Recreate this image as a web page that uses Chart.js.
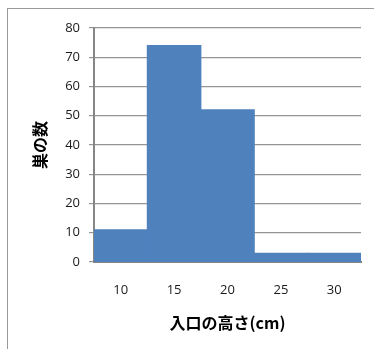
<!DOCTYPE html>
<html>
<head>
<meta charset="utf-8">
<script src="https://cdn.jsdelivr.net/npm/chart.js@4/dist/chart.umd.min.js"></script>
<style>
  html, body { margin: 0; padding: 0; background: #fff; }
  #wrap { position: relative; width: 374px; height: 349px; overflow: hidden; }
  #frame { position: absolute; left: 7px; top: 8px; width: 420px; height: 420px;
           border: 1.5px solid #9a9a9a; box-sizing: border-box; }
  canvas { position: absolute; left: 0; top: 0; }
</style>
</head>
<body>
<div id="wrap">
  <div id="frame"></div>
  <canvas id="c" width="374" height="349"></canvas>
</div>
<script>
// Nest counts by entrance height (5 cm bins)
const heights = ['10', '15', '20', '25', '30'];
const nestCounts = [11, 74, 52, 3, 3];
const yTicks = [0, 10, 20, 30, 40, 50, 60, 70, 80];

const axisFont = { family: '"Open Sans", "Liberation Sans", sans-serif', size: 13 };
const titleFont = { family: '"Noto Sans CJK JP", sans-serif', size: 16, weight: 'bold' };

new Chart(document.getElementById('c'), {
  type: 'bar',
  data: {
    labels: heights,
    datasets: [{
      data: nestCounts,
      backgroundColor: '#4f81bd',
      borderWidth: 0,
      inflateAmount: 0.6,
      categoryPercentage: 1,
      barPercentage: 1
    }]
  },
  options: {
    responsive: false,
    animation: false,
    events: [],
    layout: { padding: { left: 20, right: 13, top: 28, bottom: 0 } },
    plugins: { legend: { display: false }, tooltip: { enabled: false } },
    scales: {
      x: {
        grid: { display: false, drawTicks: false },
        border: { display: true, color: '#868686', width: 2 },
        ticks: { font: axisFont, color: '#1a1a1a', padding: 20, maxRotation: 0 },
        title: { display: true, text: '入口の高さ(cm)', font: titleFont, color: '#000',
                 padding: { top: 0, bottom: 16 } },
        afterFit: s => { s.height = 87; }
      },
      y: {
        min: 0, max: 80,
        afterBuildTicks: s => { s.ticks = yTicks.map(v => ({ value: v })); },
        grid: { color: '#959595', lineWidth: 1.2, tickLength: 5, drawTicks: true },
        border: { display: true, color: '#868686', width: 2 },
        ticks: { font: axisFont, color: '#1a1a1a', padding: 9 },
        title: { display: true, text: '巣の数', font: titleFont, color: '#000',
                 padding: { top: 10, bottom: 0 } },
        afterFit: s => { s.width = 74; }
      }
    }
  }
});
</script>
</body>
</html>
